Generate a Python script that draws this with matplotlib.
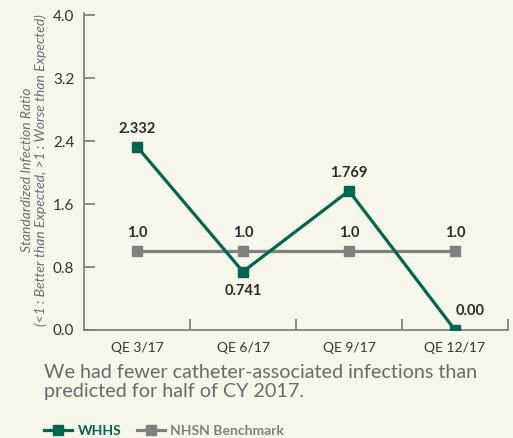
import matplotlib.pyplot as plt
from matplotlib.lines import Line2D

quarters = ["QE 3/17", "QE 6/17", "QE 9/17", "QE 12/17"]
whhs = [2.332, 0.741, 1.769, 0.0]
whhs_labels = ["2.332", "0.741", "1.769", "0.00"]
nhsn = [1.0, 1.0, 1.0, 1.0]
nhsn_labels = ["1.0", "1.0", "1.0", "1.0"]
yticks = [0.0, 0.8, 1.6, 2.4, 3.2, 4.0]

bg = "#f6f6ea"
green = "#00664f"
grey = "#808080"
dark = "#2b2b2b"

plt.rcParams["font.family"] = ["Lato", "DejaVu Sans"]

fig = plt.figure(figsize=(5.13, 4.38), dpi=100, facecolor=bg)
ax = fig.add_axes([0.1637, 0.2466, 0.8265, 0.7237])
ax.set_facecolor(bg)

x = list(range(len(quarters)))

ax.plot(x, nhsn, color=grey, lw=2.3, marker="s", ms=7.5, zorder=2)
ax.plot(x, whhs, color=green, lw=2.3, marker="s", ms=7.5, zorder=3)

# value labels
offsets = [(0, 13), (0, -14), (0, 12.5), (11, 14)]
for xi, v, lab, (dx, dy) in zip(x, whhs, whhs_labels, offsets):
    ax.annotate(lab, (xi, v), xytext=(dx, dy), textcoords="offset points",
                ha="center", va="center", fontsize=10.5, fontweight="bold",
                color=dark)
for xi, v, lab in zip(x, nhsn, nhsn_labels):
    ax.annotate(lab, (xi, v), xytext=(0, 13), textcoords="offset points",
                ha="center", va="center", fontsize=10.5, fontweight="bold",
                color=dark)

ax.set_xlim(-0.5, 3.5)
ax.set_ylim(0, 4.03)
ax.set_yticks(yticks)
ax.set_yticklabels([f"{t:.1f}" for t in yticks])
ax.set_xticks(x)
ax.set_xticklabels(quarters)
ax.set_xticks([0.5, 1.5, 2.5, 3.5], minor=True)

for s in ["top", "right"]:
    ax.spines[s].set_visible(False)
for s in ["left", "bottom"]:
    ax.spines[s].set_color("#7a7a7a")
    ax.spines[s].set_linewidth(1.2)

ax.tick_params(axis="y", direction="in", length=8, width=1.2, color="#7a7a7a",
               labelsize=11, labelcolor="#333333", pad=7)
ax.tick_params(axis="x", which="major", length=0, labelsize=10,
               labelcolor="#333333", pad=9)
ax.tick_params(axis="x", which="minor", direction="in", length=8, width=1.2,
               color="#7a7a7a")

fig.text(0.053, 0.612, "Standardized Infection Ratio", rotation=90,
         ha="center", va="center", fontsize=10, style="italic", color="#6d6d6d")
fig.text(0.08, 0.612, "(<1 : Better than Expected, >1 : Worse than Expected)",
         rotation=90, ha="center", va="center", fontsize=10, style="italic",
         color="#6d6d6d")

fig.text(0.086, 0.127,
         "We had fewer catheter-associated infections than\npredicted for half of CY 2017.",
         ha="left", va="center", fontsize=14.2, color="#6a6a6a", linespacing=1.15)

handles = [
    Line2D([], [], color=green, lw=2.3, marker="s", ms=7),
    Line2D([], [], color=grey, lw=2.3, marker="s", ms=7),
]
leg = fig.legend(handles, ["WHHS", "NHSN Benchmark"], loc="center left",
                 bbox_to_anchor=(0.073, 0.017), ncol=2, frameon=False,
                 fontsize=10, handlelength=2.0, handletextpad=0.4,
                 columnspacing=1.1, borderpad=0)
for t, c in zip(leg.get_texts(), [green, grey]):
    t.set_color(c)
    t.set_fontweight("bold")

fig.savefig("out.png", dpi=100, facecolor=bg)
